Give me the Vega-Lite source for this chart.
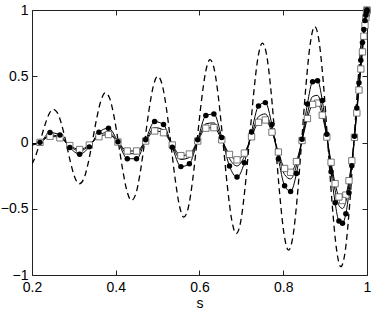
{
  "$schema": "https://vega.github.io/schema/vega-lite/v6.json",
  "width": 335,
  "height": 265,
  "autosize": "none",
  "padding": {"left": 32, "top": 10, "right": 7, "bottom": 36},
  "background": "white",
  "config": {
    "view": {"stroke": null},
    "font": "Liberation Sans",
    "axis": {
      "grid": false,
      "domainColor": "#222",
      "domainWidth": 1,
      "tickColor": "#222",
      "tickSize": -5,
      "labelFontSize": 14,
      "labelColor": "black",
      "labelFont": "Liberation Sans",
      "titleFont": "Liberation Sans",
      "titleFontSize": 14,
      "titleFontWeight": "normal",
      "titleColor": "black"
    }
  },
  "datasets": {
    "dash": [
      {"s": 0.2, "y": -0.162},
      {"s": 0.20833, "y": -0.1042},
      {"s": 0.21875, "y": 0},
      {"s": 0.22917, "y": 0.1146},
      {"s": 0.23958, "y": 0.2075},
      {"s": 0.25, "y": 0.25},
      {"s": 0.26042, "y": 0.2255},
      {"s": 0.27083, "y": 0.1354},
      {"s": 0.28125, "y": 0},
      {"s": 0.29167, "y": -0.1458},
      {"s": 0.30208, "y": -0.2616},
      {"s": 0.3125, "y": -0.3125},
      {"s": 0.32292, "y": -0.2797},
      {"s": 0.33333, "y": -0.1667},
      {"s": 0.34375, "y": 0},
      {"s": 0.35417, "y": 0.1771},
      {"s": 0.36458, "y": 0.3157},
      {"s": 0.375, "y": 0.375},
      {"s": 0.38542, "y": 0.3338},
      {"s": 0.39583, "y": 0.1979},
      {"s": 0.40625, "y": 0},
      {"s": 0.41667, "y": -0.2083},
      {"s": 0.42708, "y": -0.3699},
      {"s": 0.4375, "y": -0.4375},
      {"s": 0.44792, "y": -0.3879},
      {"s": 0.45833, "y": -0.2292},
      {"s": 0.46875, "y": 0},
      {"s": 0.47917, "y": 0.2396},
      {"s": 0.48958, "y": 0.424},
      {"s": 0.5, "y": 0.5},
      {"s": 0.51042, "y": 0.442},
      {"s": 0.52083, "y": 0.2604},
      {"s": 0.53125, "y": 0},
      {"s": 0.54167, "y": -0.2708},
      {"s": 0.55208, "y": -0.4781},
      {"s": 0.5625, "y": -0.5625},
      {"s": 0.57292, "y": -0.4962},
      {"s": 0.58333, "y": -0.2917},
      {"s": 0.59375, "y": 0},
      {"s": 0.60417, "y": 0.3021},
      {"s": 0.61458, "y": 0.5322},
      {"s": 0.625, "y": 0.625},
      {"s": 0.63542, "y": 0.5503},
      {"s": 0.64583, "y": 0.3229},
      {"s": 0.65625, "y": 0},
      {"s": 0.66667, "y": -0.3333},
      {"s": 0.67708, "y": -0.5864},
      {"s": 0.6875, "y": -0.6875},
      {"s": 0.69792, "y": -0.6044},
      {"s": 0.70833, "y": -0.3542},
      {"s": 0.71875, "y": 0},
      {"s": 0.72917, "y": 0.3646},
      {"s": 0.73958, "y": 0.6405},
      {"s": 0.75, "y": 0.75},
      {"s": 0.76042, "y": 0.6585},
      {"s": 0.77083, "y": 0.3854},
      {"s": 0.78125, "y": 0},
      {"s": 0.79167, "y": -0.3958},
      {"s": 0.80208, "y": -0.6946},
      {"s": 0.8125, "y": -0.8125},
      {"s": 0.82292, "y": -0.7127},
      {"s": 0.83333, "y": -0.4167},
      {"s": 0.84375, "y": 0},
      {"s": 0.85417, "y": 0.4271},
      {"s": 0.86458, "y": 0.7487},
      {"s": 0.875, "y": 0.875},
      {"s": 0.88542, "y": 0.7668},
      {"s": 0.89583, "y": 0.4479},
      {"s": 0.90625, "y": 0},
      {"s": 0.91667, "y": -0.4583},
      {"s": 0.92708, "y": -0.8029},
      {"s": 0.9375, "y": -0.9375},
      {"s": 0.94792, "y": -0.8209},
      {"s": 0.95833, "y": -0.4792},
      {"s": 0.96875, "y": 0},
      {"s": 0.97917, "y": 0.4896},
      {"s": 0.98958, "y": 0.857},
      {"s": 1.0, "y": 1.0}
    ],
    "nodes": [
      {"s": 1.0, "c": 1.0, "q": 1.0, "p": 1.0},
      {"s": 0.9997, "c": 0.997, "q": 0.994, "p": 0.995},
      {"s": 0.9988, "c": 0.985, "q": 0.977, "p": 0.98},
      {"s": 0.99729, "c": 0.961, "q": 0.941, "p": 0.948},
      {"s": 0.99518, "c": 0.92, "q": 0.884, "p": 0.897},
      {"s": 0.99248, "c": 0.853, "q": 0.802, "p": 0.82},
      {"s": 0.98918, "c": 0.755, "q": 0.684, "p": 0.709},
      {"s": 0.98528, "c": 0.621, "q": 0.555, "p": 0.578},
      {"s": 0.98079, "c": 0.451, "q": 0.396, "p": 0.415},
      {"s": 0.9757, "c": 0.261, "q": 0.223, "p": 0.236},
      {"s": 0.97003, "c": 0.0475, "q": 0.039, "p": 0.042},
      {"s": 0.96378, "c": -0.175, "q": -0.138, "p": -0.151},
      {"s": 0.95694, "c": -0.38, "q": -0.288, "p": -0.32},
      {"s": 0.94953, "c": -0.537, "q": -0.397, "p": -0.446},
      {"s": 0.94154, "c": -0.61, "q": -0.438, "p": -0.498},
      {"s": 0.93299, "c": -0.593, "q": -0.411, "p": -0.475},
      {"s": 0.92388, "c": -0.455, "q": -0.311, "p": -0.361},
      {"s": 0.91421, "c": -0.221, "q": -0.149, "p": -0.174},
      {"s": 0.90399, "c": 0.062, "q": 0.041, "p": 0.048},
      {"s": 0.89322, "c": 0.317, "q": 0.206, "p": 0.245},
      {"s": 0.88192, "c": 0.466, "q": 0.297, "p": 0.356},
      {"s": 0.87009, "c": 0.458, "q": 0.287, "p": 0.347},
      {"s": 0.85773, "c": 0.291, "q": 0.181, "p": 0.22},
      {"s": 0.84485, "c": 0.024, "q": 0.015, "p": 0.018},
      {"s": 0.83147, "c": -0.234, "q": -0.144, "p": -0.176},
      {"s": 0.81758, "c": -0.369, "q": -0.225, "p": -0.275},
      {"s": 0.80321, "c": -0.326, "q": -0.196, "p": -0.242},
      {"s": 0.78835, "c": -0.122, "q": -0.072, "p": -0.09},
      {"s": 0.77301, "c": 0.135, "q": 0.078, "p": 0.098},
      {"s": 0.75721, "c": 0.301, "q": 0.17, "p": 0.216},
      {"s": 0.74095, "c": 0.276, "q": 0.152, "p": 0.195},
      {"s": 0.72425, "c": 0.08, "q": 0.043, "p": 0.056},
      {"s": 0.70711, "c": -0.153, "q": -0.08, "p": -0.106},
      {"s": 0.68954, "c": -0.261, "q": -0.131, "p": -0.177},
      {"s": 0.67156, "c": -0.178, "q": -0.09, "p": -0.121},
      {"s": 0.65317, "c": 0.038, "q": 0.02, "p": 0.026},
      {"s": 0.63439, "c": 0.215, "q": 0.112, "p": 0.148},
      {"s": 0.61523, "c": 0.203, "q": 0.108, "p": 0.141},
      {"s": 0.5957, "c": 0.021, "q": 0.011, "p": 0.015},
      {"s": 0.57581, "c": -0.161, "q": -0.087, "p": -0.113},
      {"s": 0.55557, "c": -0.182, "q": -0.099, "p": -0.128},
      {"s": 0.535, "c": -0.035, "q": -0.019, "p": -0.025},
      {"s": 0.5141, "c": 0.135, "q": 0.074, "p": 0.095},
      {"s": 0.4929, "c": 0.158, "q": 0.087, "p": 0.112},
      {"s": 0.4714, "c": 0.021, "q": 0.011, "p": 0.015},
      {"s": 0.44961, "c": -0.123, "q": -0.064, "p": -0.085},
      {"s": 0.42756, "c": -0.122, "q": -0.064, "p": -0.084},
      {"s": 0.40524, "c": 0.006, "q": 0.0035, "p": 0.004},
      {"s": 0.38268, "c": 0.108, "q": 0.06, "p": 0.077},
      {"s": 0.3599, "c": 0.077, "q": 0.044, "p": 0.056},
      {"s": 0.33689, "c": -0.033, "q": -0.019, "p": -0.024},
      {"s": 0.31368, "c": -0.088, "q": -0.053, "p": -0.065},
      {"s": 0.29028, "c": -0.038, "q": -0.023, "p": -0.028},
      {"s": 0.26671, "c": 0.056, "q": 0.035, "p": 0.042},
      {"s": 0.24298, "c": 0.075, "q": 0.047, "p": 0.057},
      {"s": 0.2191, "c": 0.001, "q": 0.001, "p": 0.001},
      {"s": 0.2, "c": -0.02, "q": -0.01, "p": -0.013}
    ]
  },
  "resolve": {"axis": {"x": "independent", "y": "independent"}},
  "layer": [
    {
      "data": {"name": "dash"},
      "mark": {"type": "line", "color": "black", "strokeWidth": 1.3, "strokeDash": [6, 4], "interpolate": "monotone", "clip": true},
      "encoding": {
        "x": {"field": "s", "type": "quantitative", "scale": {"domain": [0.2, 1], "nice": false},
              "axis": {"orient": "bottom", "values": [0.2, 0.4, 0.6, 0.8, 1], "format": "~g", "title": "s", "labelPadding": 10, "titlePadding": 2, "labelFlush": false}},
        "y": {"field": "y", "type": "quantitative", "scale": {"domain": [-1, 1], "nice": false},
              "axis": {"orient": "left", "values": [-1, -0.5, 0, 0.5, 1], "format": "~g", "title": null, "labelPadding": 9, "labelFlush": false}}
      }
    },
    {
      "data": {"name": "nodes"},
      "mark": {"type": "line", "color": "black", "strokeWidth": 1, "interpolate": "monotone", "clip": true},
      "encoding": {
        "x": {"field": "s", "type": "quantitative", "scale": {"domain": [0.2, 1], "nice": false},
              "axis": {"orient": "top", "values": [0.2, 0.4, 0.6, 0.8, 1], "labels": false, "title": null}},
        "y": {"field": "p", "type": "quantitative", "scale": {"domain": [-1, 1], "nice": false},
              "axis": {"orient": "right", "values": [-1, -0.5, 0, 0.5, 1], "labels": false, "title": null}}
      }
    },
    {
      "data": {"name": "nodes"},
      "mark": {"type": "line", "color": "black", "strokeWidth": 1, "interpolate": "monotone", "clip": true},
      "encoding": {
        "x": {"field": "s", "type": "quantitative", "axis": null},
        "y": {"field": "q", "type": "quantitative", "axis": null}
      }
    },
    {
      "data": {"name": "nodes"},
      "mark": {"type": "line", "color": "black", "strokeWidth": 1, "interpolate": "monotone", "clip": true},
      "encoding": {
        "x": {"field": "s", "type": "quantitative", "axis": null},
        "y": {"field": "c", "type": "quantitative", "axis": null}
      }
    },
    {
      "data": {"name": "nodes"},
      "transform": [{"filter": "datum.s > 0.201"}],
      "mark": {"type": "point", "shape": "square", "filled": true, "fill": "white", "stroke": "#555", "strokeWidth": 0.8, "size": 40, "opacity": 1},
      "encoding": {
        "x": {"field": "s", "type": "quantitative", "axis": null},
        "y": {"field": "q", "type": "quantitative", "axis": null}
      }
    },
    {
      "data": {"name": "nodes"},
      "transform": [{"filter": "datum.s > 0.201"}],
      "mark": {"type": "point", "shape": "circle", "filled": true, "color": "black", "size": 30, "opacity": 1},
      "encoding": {
        "x": {"field": "s", "type": "quantitative", "axis": null},
        "y": {"field": "c", "type": "quantitative", "axis": null}
      }
    }
  ]
}
